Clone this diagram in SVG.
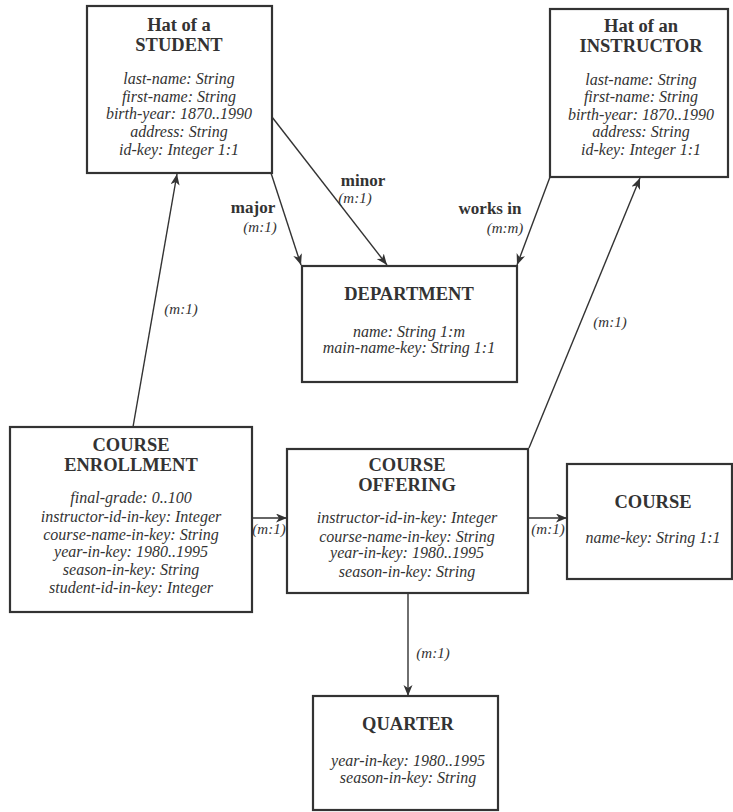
<svg xmlns="http://www.w3.org/2000/svg" width="733" height="812" viewBox="0 0 733 812">
<style>
.box{fill:#fff;stroke:#333;stroke-width:2.2}
.t{font-family:"Liberation Serif","Times New Roman",serif;font-weight:bold;font-size:18.5px;fill:#333;text-anchor:middle}
.a{font-family:"Liberation Serif","Times New Roman",serif;font-style:italic;font-size:16px;fill:#333;text-anchor:middle}
.lb{font-family:"Liberation Serif","Times New Roman",serif;font-weight:bold;font-size:17px;fill:#333;text-anchor:middle}
.lc{font-family:"Liberation Serif","Times New Roman",serif;font-style:italic;font-size:15px;fill:#333;text-anchor:middle}
.c{stroke:#333;stroke-width:1.4;fill:none;marker-end:url(#arr)}
</style>
<defs>
<marker id="arr" markerUnits="userSpaceOnUse" markerWidth="12" markerHeight="10" refX="11" refY="4.5" orient="auto">
<path d="M0,0 L11,4.5 L0,9 L3,4.5 z" fill="#333"/>
</marker>
</defs>
<rect width="733" height="812" fill="#fff"/>
<g id="connectors">
<line class="c" x1="133" y1="427" x2="177" y2="174"/>
<line class="c" x1="271" y1="173" x2="301" y2="265"/>
<line class="c" x1="272" y1="117" x2="387" y2="265"/>
<line class="c" x1="550" y1="177" x2="517" y2="265"/>
<line class="c" x1="529" y1="448" x2="640" y2="178"/>
<line class="c" x1="252" y1="518" x2="287" y2="518"/>
<line class="c" x1="528" y1="518" x2="567" y2="518"/>
<line class="c" x1="408" y1="593" x2="408" y2="696"/>
<text class="lc" x="181" y="314">(m:1)</text>
<text class="lb" x="253" y="213">major</text>
<text class="lc" x="260" y="232">(m:1)</text>
<text class="lb" x="363" y="186">minor</text>
<text class="lc" x="355" y="203">(m:1)</text>
<text class="lb" x="490" y="214">works in</text>
<text class="lc" x="505" y="233">(m:m)</text>
<text class="lc" x="610" y="327">(m:1)</text>
<text class="lc" x="269" y="534">(m:1)</text>
<text class="lc" x="548" y="534">(m:1)</text>
<text class="lc" x="433" y="658">(m:1)</text>
</g>
<g id="student">
<rect class="box" x="87" y="6" width="185" height="167"/>
<text class="t" x="179" y="31">Hat of a</text>
<text class="t" x="179" y="51">STUDENT</text>
<text class="a" x="179" y="84">last-name: String</text>
<text class="a" x="179" y="102">first-name: String</text>
<text class="a" x="179" y="119">birth-year: 1870..1990</text>
<text class="a" x="179" y="137">address: String</text>
<text class="a" x="179" y="155">id-key: Integer  1:1</text>
</g>
<g id="instructor">
<rect class="box" x="550" y="9" width="178" height="168"/>
<text class="t" x="641" y="32">Hat of an</text>
<text class="t" x="641" y="52">INSTRUCTOR</text>
<text class="a" x="641" y="85">last-name: String</text>
<text class="a" x="641" y="102">first-name: String</text>
<text class="a" x="641" y="120">birth-year: 1870..1990</text>
<text class="a" x="641" y="137">address: String</text>
<text class="a" x="641" y="155">id-key: Integer  1:1</text>
</g>
<g id="department">
<rect class="box" x="302" y="266" width="215" height="116"/>
<text class="t" x="409" y="300">DEPARTMENT</text>
<text class="a" x="409" y="337">name: String  1:m</text>
<text class="a" x="409" y="353">main-name-key: String  1:1</text>
</g>
<g id="enrollment">
<rect class="box" x="10" y="427" width="242" height="185"/>
<text class="t" x="131" y="451">COURSE</text>
<text class="t" x="131" y="471">ENROLLMENT</text>
<text class="a" x="131" y="503">final-grade: 0..100</text>
<text class="a" x="131" y="522">instructor-id-in-key: Integer</text>
<text class="a" x="131" y="540">course-name-in-key: String</text>
<text class="a" x="131" y="557">year-in-key: 1980..1995</text>
<text class="a" x="131" y="575">season-in-key: String</text>
<text class="a" x="131" y="593">student-id-in-key: Integer</text>
</g>
<g id="offering">
<rect class="box" x="287" y="449" width="241" height="144"/>
<text class="t" x="407" y="471">COURSE</text>
<text class="t" x="407" y="491">OFFERING</text>
<text class="a" x="407" y="523">instructor-id-in-key: Integer</text>
<text class="a" x="407" y="542">course-name-in-key: String</text>
<text class="a" x="407" y="558">year-in-key: 1980..1995</text>
<text class="a" x="407" y="577">season-in-key: String</text>
</g>
<g id="course">
<rect class="box" x="567" y="464" width="165" height="115"/>
<text class="t" x="653" y="508">COURSE</text>
<text class="a" x="653" y="543">name-key: String  1:1</text>
</g>
<g id="quarter">
<rect class="box" x="313" y="696" width="185" height="114"/>
<text class="t" x="408" y="730">QUARTER</text>
<text class="a" x="408" y="766">year-in-key: 1980..1995</text>
<text class="a" x="408" y="783">season-in-key: String</text>
</g>
</svg>
